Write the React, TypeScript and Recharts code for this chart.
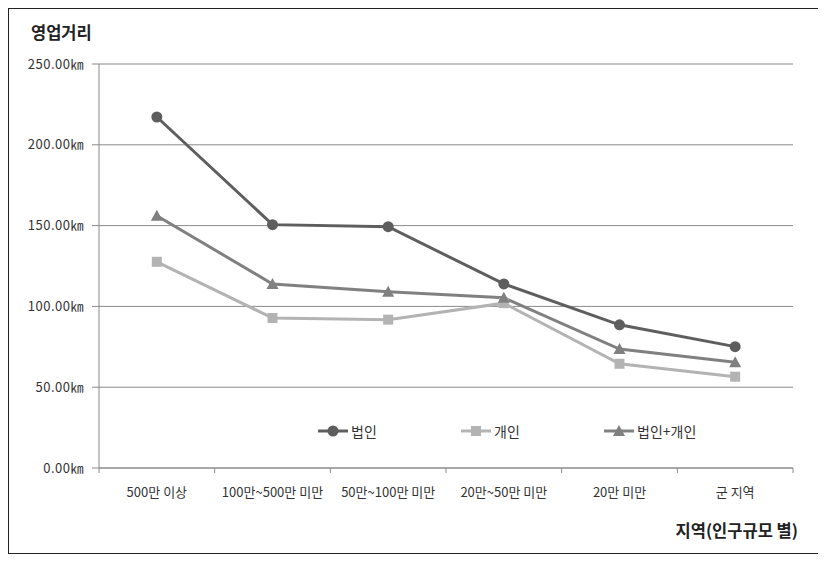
import React from 'react';
import { LineChart, Line, XAxis, YAxis, CartesianGrid } from 'recharts';

const categories = ['500만 이상', '100만~500만 미만', '50만~100만 미만', '20만~50만 미만', '20만 미만', '군 지역'];
const corp = [217.2, 150.6, 149.3, 113.9, 88.6, 75.1];
const indiv = [127.6, 92.8, 91.8, 102.0, 64.5, 56.5];
const both = [156.1, 113.9, 109.0, 105.3, 73.6, 65.5];
const yTicks = [0, 50, 100, 150, 200, 250];

const series = [
  { key: 'corp', name: '법인', color: '#5e5e5e', shape: 'circle' },
  { key: 'indiv', name: '개인', color: '#b3b3b3', shape: 'square' },
  { key: 'both', name: '법인+개인', color: '#808080', shape: 'triangle' },
];

const data = categories.map((c, i) => ({ name: c, corp: corp[i], indiv: indiv[i], both: both[i] }));

const FONT = '"Noto Sans CJK KR", "Noto Sans", sans-serif';
const AXIS = '#8a8a8a';

function Marker({ cx, cy, shape, color }: any) {
  if (cx == null || cy == null) return null;
  if (shape === 'square') {
    return <rect x={cx - 5} y={cy - 5} width={10} height={10} fill={color} />;
  }
  if (shape === 'triangle') {
    return <polygon points={`${cx},${cy - 6} ${cx + 6},${cy + 5} ${cx - 6},${cy + 5}`} fill={color} />;
  }
  return <circle cx={cx} cy={cy} r={5.5} fill={color} />;
}

// category label plus tick marks on the band edges
function CategoryTick({ x, y, payload, index }: any) {
  const half = payload.offset || 0;
  const last = index === categories.length - 1;
  return (
    <g>
      <line x1={x - half} y1={y} x2={x - half} y2={y + 5} stroke={AXIS} />
      {last && <line x1={x + half} y1={y} x2={x + half} y2={y + 5} stroke={AXIS} />}
      <text x={x} y={y + 29} textAnchor="middle" fontSize={13} fill="#333" fontFamily={FONT}>
        {payload.value}
      </text>
    </g>
  );
}

function LegendIcon({ shape, color }: any) {
  return (
    <svg width={30} height={12} style={{ display: 'block' }}>
      <line x1={0} y1={6} x2={30} y2={6} stroke={color} strokeWidth={3} />
      <Marker cx={15} cy={6} shape={shape} color={color} />
    </svg>
  );
}

export default function App() {
  return (
    <div
      style={{
        position: 'relative',
        width: 811,
        height: 546,
        boxSizing: 'border-box',
        border: '1px solid #222',
        background: '#fff',
        fontFamily: FONT,
      }}
    >
      <div style={{ position: 'absolute', left: 22, top: 11, fontSize: 16.5, fontWeight: 'bold', color: '#222' }}>
        영업거리
      </div>
      <LineChart width={809} height={544} data={data} margin={{ top: 55, right: 25, bottom: 55, left: 10 }}>
        <CartesianGrid vertical={false} stroke={AXIS} strokeWidth={1} />
        <XAxis
          dataKey="name"
          scale="band"
          height={30}
          axisLine={{ stroke: AXIS }}
          tickLine={false}
          tickSize={0}
          tickMargin={0}
          interval={0}
          tick={<CategoryTick />}
        />
        <YAxis
          width={80}
          domain={[0, 250]}
          ticks={yTicks}
          axisLine={{ stroke: AXIS }}
          tickLine={{ stroke: AXIS }}
          tickSize={7}
          tickMargin={8}
          tickFormatter={(v: number) => `${v.toFixed(2)}㎞`}
          tick={{ fontSize: 13, fill: '#333', fontFamily: FONT, letterSpacing: 0.5 }}
        />
        {series.map((s) => (
          <Line
            key={s.key}
            dataKey={s.key}
            name={s.name}
            stroke={s.color}
            strokeWidth={3}
            isAnimationActive={false}
            dot={(p: any) => <Marker key={`${s.key}-${p.index}`} cx={p.cx} cy={p.cy} shape={s.shape} color={s.color} />}
          />
        ))}
      </LineChart>
      <div style={{ position: 'absolute', left: 309, top: 412, display: 'flex' }}>
        {series.map((s) => (
          <div key={s.key} style={{ width: 143, display: 'flex', alignItems: 'center', gap: 3, fontSize: 14, color: '#333' }}>
            <LegendIcon shape={s.shape} color={s.color} />
            <span>{s.name}</span>
          </div>
        ))}
      </div>
      <div style={{ position: 'absolute', right: 20, top: 509, fontSize: 16.5, fontWeight: 'bold', color: '#222' }}>
        지역(인구규모 별)
      </div>
    </div>
  );
}
